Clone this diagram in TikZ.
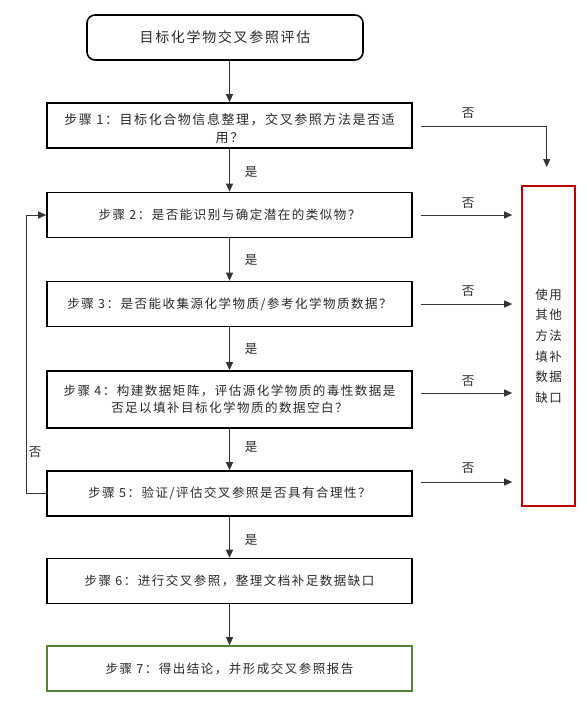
\documentclass[tikz,border=0pt]{standalone}
\usepackage{fontspec}
\setmainfont{Noto Sans CJK SC}[LetterSpace=12]
\usetikzlibrary{arrows.meta,calc}
\definecolor{redbox}{RGB}{192,0,0}
\definecolor{greenbox}{RGB}{84,130,53}
\definecolor{txt}{RGB}{40,40,40}
\begin{document}
\begin{tikzpicture}[x=1pt,y=-1pt,
  stepbox/.style={draw=black,line width=1.6pt,minimum width=365pt,minimum height=45pt,
    inner sep=2pt,align=center,font=\fontsize{12.5}{17}\selectfont,text=txt},
  arr/.style={draw=black!80,line width=0.8pt,-{Triangle[length=8pt,width=7pt]}},
  lbl/.style={font=\fontsize{12.5}{14}\selectfont,text=txt,inner sep=0pt}]
\useasboundingbox (0,0) rectangle (587,702);
\node[stepbox,rounded corners=8pt,minimum width=276pt,font=\fontsize{14}{17}\selectfont] (t) at (225,37.5) {目标化学物交叉参照评估};
\node[stepbox] (s1) at (229.5,125.5) {};
\node[align=center,inner sep=0pt,text=txt,font=\fontsize{13}{17.5}\selectfont] (s1t) at (229.5,128.5) {步骤 1：目标化合物信息整理，交叉参照方法是否适\\用？};
\node[stepbox] (s2) at (229.5,215) {步骤 2：是否能识别与确定潜在的类似物？};
\node[stepbox] (s3) at (229.5,304) {步骤 3：是否能收集源化学物质/参考化学物质数据？};
\node[stepbox,minimum height=57pt] (s4) at (229.5,399.5) {步骤 4：构建数据矩阵，评估源化学物质的毒性数据是\\否足以填补目标化学物质的数据空白？};
\node[stepbox] (s5) at (229.5,493.5) {步骤 5：验证/评估交叉参照是否具有合理性？};
\node[stepbox] (s6) at (229.5,581) {步骤 6：进行交叉参照，整理文档补足数据缺口};
\node[stepbox,draw=greenbox] (s7) at (229.5,668.5) {步骤 7：得出结论，并形成交叉参照报告};
\node[draw=redbox,line width=1.6pt,minimum width=53pt,minimum height=320pt,inner sep=0pt,
  align=center,font=\fontsize{12.5}{20.6}\selectfont,text=txt] (r) at (548.5,346) {使用\\其他\\方法\\填补\\数据\\缺口};
% vertical flow
\draw[arr] (s1.north |- t.south) -- (s1.north);
\draw[arr] (s1.south) -- (s2.north);
\draw[arr] (s2.south) -- (s3.north);
\draw[arr] (s3.south) -- (s4.north);
\draw[arr] (s4.south) -- (s5.north);
\draw[arr] (s5.south) -- (s6.north);
\draw[arr] (s6.south) -- (s7.north);
\foreach \y in {172,260,349,447,540} \node[lbl] at (251,\y) {是};
% no branches
\coordinate (c1) at (546.7,126);
\coordinate (c1e) at (546.7,167);
\draw[arr] ([xshift=8pt]s1.east |- c1) -- (c1) -- (c1e);
\draw[arr] ([xshift=8pt]s2.east) -- ([xshift=-9pt]s2.east -| r.west);
\draw[arr] ([xshift=8pt,yshift=0pt]s3.east) -- ([xshift=-9pt]s3.east -| r.west);
\draw[arr] ([xshift=8pt,yshift=6.5pt]s4.east) -- ([xshift=-9pt,yshift=6.5pt]s4.east -| r.west);
\draw[arr] ([xshift=8pt,yshift=11.5pt]s5.east) -- ([xshift=-9pt,yshift=11.5pt]s5.east -| r.west);
\foreach \y in {113,203,291,381,468} \node[lbl] at (468,\y) {否};
% loop back
\draw[arr] (s5.west) -- ++(-20.3,0) |- (s2.west);
\node[lbl] at (35,452) {否};
\end{tikzpicture}
\end{document}
